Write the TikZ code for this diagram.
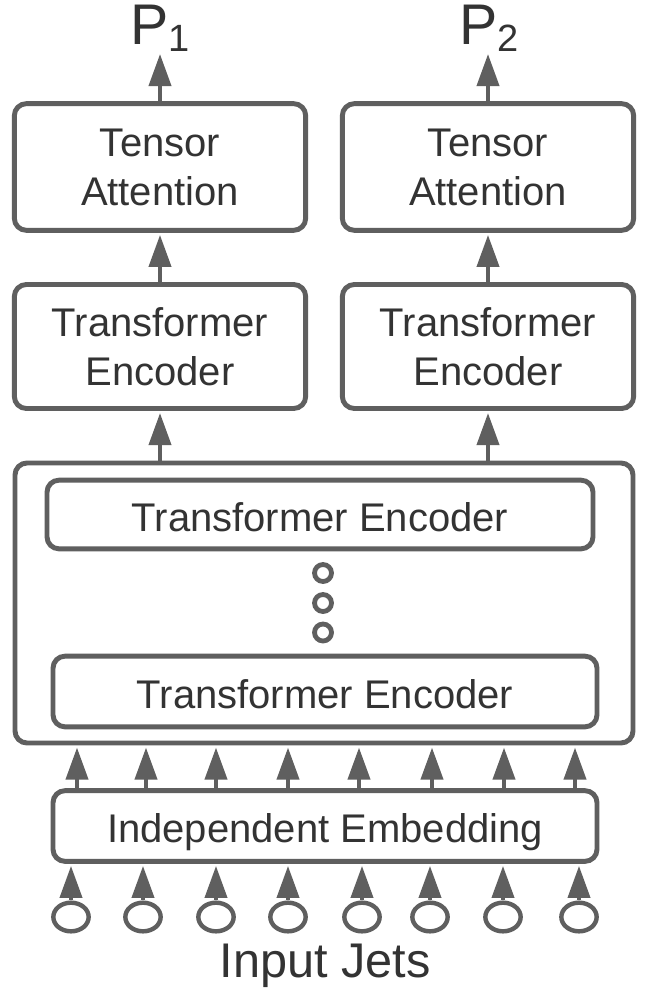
\documentclass[tikz,border=0pt]{standalone}
\usepackage{fontspec}
\setmainfont{Liberation Sans}
\usetikzlibrary{arrows.meta,shapes.geometric}
\definecolor{lc}{HTML}{5F5F5F}
\definecolor{tc}{HTML}{333333}
\begin{document}
\begin{tikzpicture}[x=0.75pt,y=-0.75pt,
  box/.style={draw=lc,line width=3.7pt,rounded corners=9pt,inner sep=0pt,text=tc,align=center,font=\fontsize{30}{36.75}\selectfont},
  onebox/.style={box,text height=25pt,text depth=0pt},
  arr/.style={draw=lc,line width=3pt,-{Triangle[length=24pt,width=16.5pt]},shorten >=1.6pt},
  dotc/.style={circle,draw=lc,line width=3.6pt,minimum size=12.75pt,inner sep=0pt},
  jet/.style={ellipse,draw=lc,line width=3.3pt,minimum width=26.5pt,minimum height=21.5pt,inner sep=0pt},
  lbl/.style={text=tc,inner sep=0pt}]
\useasboundingbox (0,0) rectangle (645,994);
\fill[white] (0,0) rectangle (645,994);

% top row
\node[box,minimum width=218.5pt,minimum height=95pt] (ta1) at (160,167) {Tensor\\Attention};
\node[box,minimum width=218.5pt,minimum height=95pt] (ta2) at (488,167) {Tensor\\Attention};
\node[box,minimum width=218.5pt,minimum height=93pt] (te1) at (160,346.5) {Transformer\\Encoder};
\node[box,minimum width=218.5pt,minimum height=93pt] (te2) at (488,346.5) {Transformer\\Encoder};

% outputs
\node[lbl,anchor=base] (p1) at (160,45) {\fontsize{43}{43}\selectfont P\raisebox{-5pt}{\fontsize{28.5}{28.5}\selectfont 1}};
\node[lbl,anchor=base] (p2) at (489,45) {\fontsize{43}{43}\selectfont P\raisebox{-5pt}{\fontsize{28.5}{28.5}\selectfont 2}};

% big stacked encoder
\node[box,minimum width=463.5pt,minimum height=210pt] (big) at (324,603) {};
\node[onebox,minimum width=409.5pt,minimum height=51.5pt] (inA) at (320,514.5) {Transformer Encoder};
\node[onebox,minimum width=408pt,minimum height=53pt] (inB) at (325,691.5) {Transformer Encoder};
\node[dotc] (d1) at (323,573) {};
\node[dotc] (d2) at (323,603) {};
\node[dotc] (d3) at (323,632.5) {};

% embedding
\node[onebox,minimum width=408pt,minimum height=53pt] (ie) at (325,826) {Independent Embedding};

% arrows top
\draw[arr] (ta1.north) -- (p1.south -| ta1.north);
\draw[arr] (ta2.north) -- (p2.south -| ta2.north);
\draw[arr] (te1.north) -- (ta1.south);
\draw[arr] (te2.north) -- (ta2.south);
\draw[arr] (big.north -| te1.south) -- (te1.south);
\draw[arr] (big.north -| te2.south) -- (te2.south);

% arrows embedding -> big box
\foreach \x [count=\i] in {77,146,216,288,359,432,504,575}{
  \coordinate (u\i) at (\x,0);
  \draw[arr] (ie.north -| u\i) -- (big.south -| u\i);
}

% input jets
\foreach \x [count=\i] in {71,143,216,288,362,430,503,579}{
  \node[jet] (j\i) at (\x,917) {};
  \draw[arr] (j\i.north) -- (ie.south -| j\i.north);
}

\node[lbl,anchor=base,font=\fontsize{36.5}{36.5}\selectfont] (inp) at (325,977) {Input Jets};
\end{tikzpicture}
\end{document}
